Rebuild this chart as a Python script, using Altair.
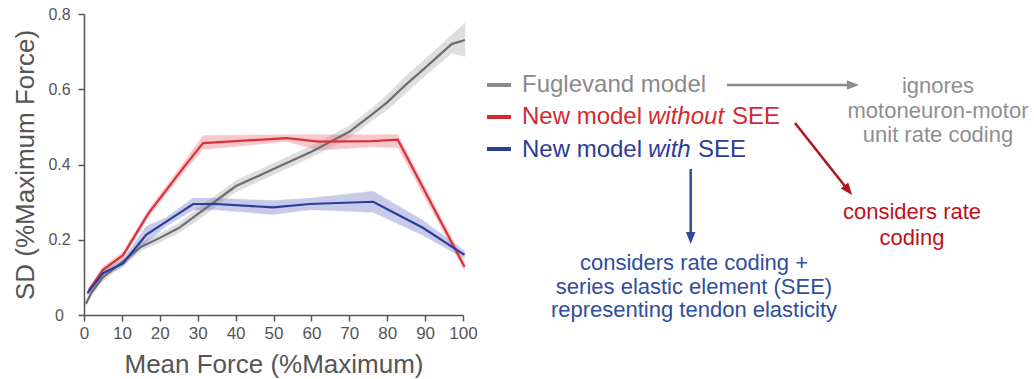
import altair as alt
import pandas as pd

FONT = "Liberation Sans, Arial, Helvetica, sans-serif"

# ---- force variability data (SD of force vs. mean force) ----
# Fuglevand model
fug_force = [0.5, 2, 5, 10, 15, 20, 25, 30, 35, 40, 50, 60, 70, 76, 80, 85, 90, 97, 100.5]
fug_sd = [0.030, 0.060, 0.100, 0.140, 0.181, 0.205, 0.231, 0.268, 0.305, 0.342, 0.388,
          0.434, 0.487, 0.533, 0.565, 0.613, 0.657, 0.720, 0.731]
fug_lo = [0.025, 0.052, 0.090, 0.130, 0.170, 0.193, 0.218, 0.252, 0.290, 0.327, 0.373,
          0.419, 0.471, 0.517, 0.545, 0.590, 0.636, 0.696, 0.687]
fug_hi = [0.035, 0.068, 0.110, 0.150, 0.192, 0.217, 0.244, 0.284, 0.320, 0.357, 0.403,
          0.449, 0.503, 0.550, 0.585, 0.636, 0.680, 0.744, 0.776]

# New model without SEE
red_force = [1.3, 5, 10.3, 17, 22, 26.5, 31.4, 53.5, 62, 76, 82.8, 100.4]
red_sd = [0.066, 0.120, 0.159, 0.270, 0.336, 0.395, 0.457, 0.470, 0.461, 0.462, 0.466, 0.128]
red_lo = [0.060, 0.112, 0.150, 0.260, 0.325, 0.382, 0.440, 0.461, 0.438, 0.447, 0.445, 0.118]
red_hi = [0.072, 0.128, 0.168, 0.280, 0.347, 0.408, 0.477, 0.479, 0.479, 0.479, 0.480, 0.140]

# New model with SEE
blue_force = [0.9, 5, 10.3, 16.4, 21.7, 28.8, 35, 49.9, 59.5, 76.3, 89.4, 100.4]
blue_sd = [0.058, 0.111, 0.137, 0.213, 0.248, 0.295, 0.295, 0.286, 0.295, 0.301, 0.232, 0.160]
blue_lo = [0.052, 0.102, 0.128, 0.192, 0.236, 0.279, 0.280, 0.267, 0.280, 0.273, 0.212, 0.150]
blue_hi = [0.064, 0.120, 0.146, 0.236, 0.259, 0.311, 0.310, 0.304, 0.310, 0.329, 0.252, 0.170]

x_ticks = list(range(0, 101, 10))
y_ticks = [0, 0.2, 0.4, 0.6, 0.8]

series = [
    # name, force, sd, lo, hi, line colour, band colour
    ("Fuglevand", fug_force, fug_sd, fug_lo, fug_hi, "#6e6e6e", "#a9a9a9"),
    ("without SEE", red_force, red_sd, red_lo, red_hi, "#d8333a", "#ec6f74"),
    ("with SEE", blue_force, blue_sd, blue_lo, blue_hi, "#2b3d98", "#6d76c6"),
]

W, H = 379, 301
AX = "#555555"

x_scale = alt.Scale(domain=[0, 100], nice=False, zero=False)
y_scale = alt.Scale(domain=[0, 0.8], nice=False)

x_axis = alt.Axis(
    values=x_ticks, title="Mean Force (%Maximum)", grid=False,
    tickSize=6, tickWidth=1.5, tickColor=AX, domainColor=AX, domainWidth=1.5,
    labelFont=FONT, labelFontSize=17, labelColor=AX, labelPadding=4,
    labelFlush=False, labelOverlap=False,
    titleFont=FONT, titleFontSize=26, titleFontWeight="normal", titleColor=AX,
    titleX=W / 2, titleY=57, titleBaseline="alphabetic",
)
y_axis = alt.Axis(
    values=y_ticks, title="SD (%Maximum Force)", grid=False,
    labelExpr="datum.value == 0 ? '0' : format(datum.value, '.1f')",
    tickSize=6, tickWidth=1.5, tickColor=AX, domainColor=AX, domainWidth=1.5,
    labelFont=FONT, labelFontSize=16, labelColor=AX, labelPadding=19,
    labelAlign="center", labelFlush=False, labelOverlap=False,
    titleFont=FONT, titleFontSize=26, titleFontWeight="normal", titleColor=AX,
    titleX=-51, titleY=H / 2, titleAngle=270, titleAlign="center",
    titleBaseline="alphabetic",
)

bands, lines = [], []
for name, f, s, lo, hi, lc, bc in series:
    df = pd.DataFrame({"force": f, "sd": s, "lo": lo, "hi": hi, "model": name})
    base = alt.Chart(df)
    bands.append(
        base.mark_area(color=bc, opacity=0.38, stroke=bc, strokeOpacity=0.5,
                       strokeWidth=0.8, orient="vertical")
        .encode(x=alt.X("force:Q", scale=x_scale, axis=x_axis),
                y=alt.Y("lo:Q", scale=y_scale, axis=y_axis),
                y2="hi:Q")
    )
    lines.append(
        base.mark_line(color=lc, strokeWidth=2.2).encode(
            x=alt.X("force:Q", scale=x_scale, axis=x_axis),
            y=alt.Y("sd:Q", scale=y_scale, axis=y_axis))
    )

one = pd.DataFrame({"k": [0]})


def label(txt, x, y, color, size=24, italic=False, align="left", line_height=None):
    kw = dict(text=txt, font=FONT, fontSize=size, color=color, align=align,
              baseline="alphabetic")
    if italic:
        kw["fontStyle"] = "italic"
    if line_height:
        kw["lineHeight"] = line_height
    return alt.Chart(one).mark_text(**kw).encode(x=alt.value(x), y=alt.value(y))


def seg(x1, y1, x2, y2, color, width):
    return alt.Chart(one).mark_rule(color=color, strokeWidth=width).encode(
        x=alt.value(x1), x2=alt.value(x2), y=alt.value(y1), y2=alt.value(y2))


HEAD = "M0,-1L-0.78,1L0.78,1Z"


def head(x, y, angle, color):
    return alt.Chart(one).mark_point(shape=HEAD, filled=True, size=150, angle=angle,
                                     color=color, opacity=1, strokeWidth=0).encode(
        x=alt.value(x), y=alt.value(y))


GRAY_L, RED_L, BLUE_L = "#8a8a8a", "#d42a2e", "#2c3d93"
GRAY_T, RED_T, BLUE_T = "#8f8f8f", "#c0111b", "#2f4e9c"

legend = [
    seg(403, 71, 427, 71, GRAY_L, 4),
    seg(403, 103, 427, 103, RED_L, 4),
    seg(403, 135, 427, 135, BLUE_L, 4),
    label("Fuglevand model", 438, 78, GRAY_L),
    label("New model ", 438, 110, RED_L),
    label("without", 564, 110, RED_L, italic=True),
    label("SEE", 648, 110, RED_L),
    label("New model ", 438, 143, BLUE_L),
    label("with", 564, 143, BLUE_L, italic=True),
    label("SEE", 614, 143, BLUE_L),
]

notes = [
    # Fuglevand -> ignores rate coding
    seg(643, 71, 766, 71, "#8c8c8c", 2.5),
    head(769, 71, 90, "#8c8c8c"),
    label(["ignores", "motoneuron-motor", "unit rate coding"], 854, 79, GRAY_T,
          size=22, align="center", line_height=24.5),
    # without SEE -> considers rate coding
    seg(711, 109, 763, 174.7, "#b3121a", 2.5),
    head(764.3, 176.3, 141.6, "#b3121a"),
    label(["considers rate", "coding"], 828, 205, RED_T, size=22, align="center",
          line_height=26),
    # with SEE -> rate coding + SEE
    seg(606.7, 155, 606.7, 222, "#2e4d9a", 2.5),
    head(606.7, 224, 180, "#2e4d9a"),
    label(["considers rate coding +", "series elastic element (SEE)",
           "representing tendon elasticity"], 610, 256, BLUE_T, size=22,
          align="center", line_height=23.5),
]

chart = alt.layer(*bands, *lines, *legend, *notes).properties(
    width=W, height=H,
    autosize=alt.AutoSizeParams(type="none"),
    padding={"left": 84, "top": 14, "right": 1034 - 84 - W, "bottom": 379 - 14 - H},
    background="white",
).configure_view(stroke=None)

chart.save("out.html", embed_options={"renderer": "svg", "actions": False})
